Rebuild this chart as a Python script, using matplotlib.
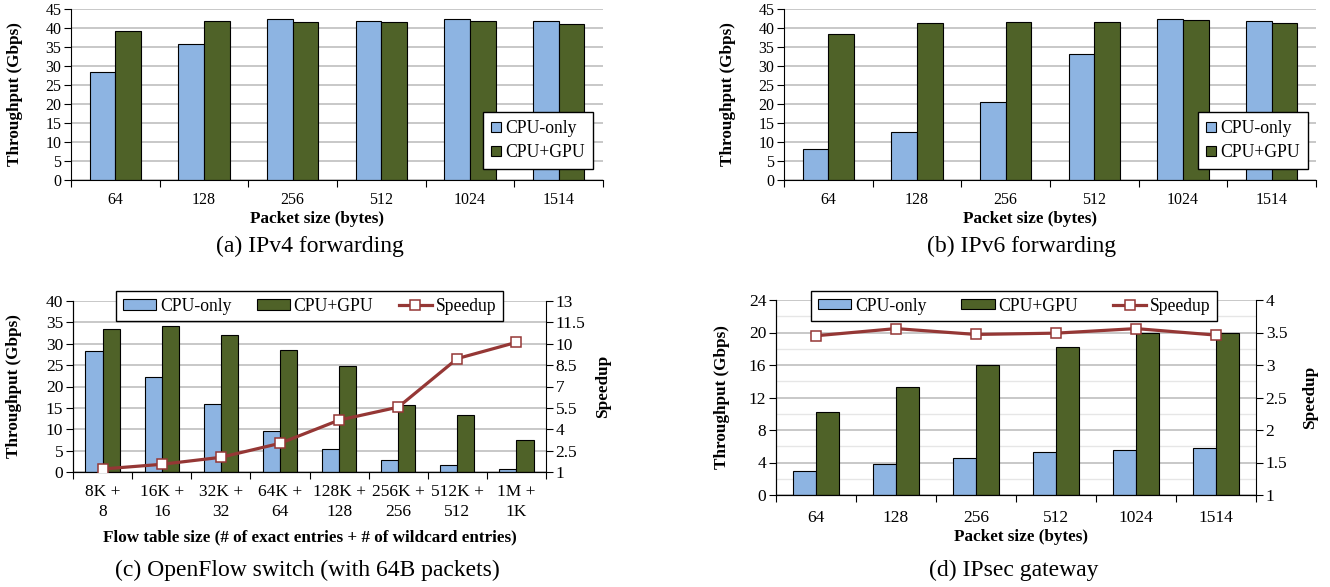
import numpy as np
import matplotlib
matplotlib.use("Agg")
import matplotlib.pyplot as plt
from matplotlib.ticker import MultipleLocator, FixedLocator, NullFormatter

plt.rcParams["font.family"] = ["Liberation Serif", "DejaVu Serif"]

# ---- data ----
pkt_sizes = ["64", "128", "256", "512", "1024", "1514"]

ipv4_cpu = [28.5, 35.7, 42.5, 41.8, 42.3, 41.8]
ipv4_gpu = [39.3, 41.9, 41.7, 41.6, 41.9, 41.1]

ipv6_cpu = [8.1, 12.7, 20.4, 33.2, 42.4, 41.8]
ipv6_gpu = [38.3, 41.2, 41.6, 41.6, 42.1, 41.4]

flow_sizes = ["8K +\n8", "16K +\n16", "32K +\n32", "64K +\n64",
              "128K +\n128", "256K +\n256", "512K +\n512", "1M +\n1K"]
of_cpu = [28.3, 22.3, 15.8, 9.5, 5.4, 2.9, 1.6, 0.8]
of_gpu = [33.5, 34.1, 32.0, 28.5, 24.7, 15.6, 13.3, 7.6]
of_speedup = [1.21, 1.54, 2.03, 3.01, 4.64, 5.55, 8.96, 10.1]

ipsec_cpu = [3.0, 3.8, 4.6, 5.25, 5.6, 5.8]
ipsec_gpu = [10.2, 13.3, 16.0, 18.2, 20.0, 20.0]
ipsec_speedup = [3.45, 3.56, 3.47, 3.49, 3.56, 3.46]

BLUE = "#8DB4E2"
GREEN = "#4F6228"
RED = "#953735"
GRID = "#c4c4c4"
BW = 0.29
LABEL_FS = 12.3


def style_axes(ax, n, labels, ylim, ystep, xlabel, tick_fs, xpad, ylab_x, xlab_xy):
    ax.set_xlim(0, n)
    ax.set_ylim(*ylim)
    ax.yaxis.set_major_locator(MultipleLocator(ystep))
    ax.xaxis.set_major_locator(FixedLocator(np.arange(n + 1)))
    ax.xaxis.set_major_formatter(NullFormatter())
    ax.xaxis.set_minor_locator(FixedLocator(np.arange(n) + 0.5))
    ax.set_xticklabels(labels, minor=True, linespacing=1.3)
    ax.tick_params(axis="x", which="minor", length=0, labelsize=tick_fs, pad=xpad)
    ax.tick_params(axis="x", which="major", length=5, direction="out")
    ax.tick_params(axis="y", length=5, direction="out", labelsize=tick_fs, pad=2)
    ax.grid(axis="y", color=GRID, linewidth=1.3, zorder=0)
    ax.set_axisbelow(True)
    for s in ["top", "right"]:
        ax.spines[s].set_visible(False)
    ax.set_ylabel("Throughput (Gbps)", fontsize=LABEL_FS, fontweight="bold")
    ax.yaxis.set_label_coords(ylab_x, 0.5)
    ax.set_xlabel(xlabel, fontsize=LABEL_FS, fontweight="bold")
    ax.xaxis.set_label_coords(*xlab_xy)


def draw_bars(ax, cpu, gpu):
    x = np.arange(len(cpu)) + 0.5
    ax.bar(x - BW / 2, cpu, BW, color=BLUE, edgecolor="black", linewidth=0.8,
           label="CPU-only", zorder=2)
    ax.bar(x + BW / 2, gpu, BW, color=GREEN, edgecolor="black", linewidth=0.8,
           label="CPU+GPU", zorder=2)


def box_legend(ax, anchor):
    leg = ax.legend(loc="lower right", bbox_to_anchor=anchor, borderaxespad=0,
                    fontsize=12.7, handlelength=0.55, handleheight=0.55,
                    handletextpad=0.25, labelspacing=0.4, borderpad=0.45,
                    fancybox=False, framealpha=1, edgecolor="black")
    leg.get_frame().set_linewidth(1.0)


def speedup_axis(ax, x, values, ylim, ticks, ticklabels, tick_fs, lab_x):
    ax2 = ax.twinx()
    ax2.plot(x, values, color=RED, linewidth=2.3, marker="s", markersize=7.5,
             markerfacecolor="white", markeredgecolor=RED, markeredgewidth=1.1,
             label="Speedup", zorder=5)
    ax2.set_ylim(*ylim)
    ax2.set_yticks(ticks)
    ax2.set_yticklabels(ticklabels)
    ax2.tick_params(axis="y", length=5, direction="out", labelsize=tick_fs, pad=2)
    ax2.spines["top"].set_visible(False)
    ax2.set_ylabel("Speedup", fontsize=LABEL_FS, fontweight="bold")
    ax2.yaxis.set_label_coords(lab_x, 0.5)
    return ax2


def line_legend(ax, ax2, x0, width, top):
    h1, l1 = ax.get_legend_handles_labels()
    h2, l2 = ax2.get_legend_handles_labels()
    leg = ax2.legend(h1 + h2, l1 + l2, loc="upper left",
                     bbox_to_anchor=(x0, 0, width, top), mode="expand",
                     borderaxespad=0, ncol=3, fontsize=12.7, handlelength=1.9,
                     handleheight=0.5, handletextpad=0.2, columnspacing=1.1,
                     borderpad=0.38, fancybox=False, framealpha=1, edgecolor="black")
    leg.get_frame().set_linewidth(1.0)


fig = plt.figure(figsize=(13.3, 5.87), dpi=100)

# (a) IPv4 forwarding
ax_a = fig.add_axes([71 / 1330, 1 - 180 / 587, 532 / 1330, 171 / 587])
draw_bars(ax_a, ipv4_cpu, ipv4_gpu)
style_axes(ax_a, 6, pkt_sizes, (0, 45), 5, "Packet size (bytes)", 11.5, 9,
           -0.090, (0.463, -0.18))
box_legend(ax_a, (0.981, 0.064))

# (b) IPv6 forwarding
ax_b = fig.add_axes([784 / 1330, 1 - 180 / 587, 532 / 1330, 171 / 587])
draw_bars(ax_b, ipv6_cpu, ipv6_gpu)
style_axes(ax_b, 6, pkt_sizes, (0, 45), 5, "Packet size (bytes)", 11.5, 9,
           -0.090, (0.463, -0.18))
box_legend(ax_b, (0.985, 0.064))

# (c) OpenFlow switch
ax_c = fig.add_axes([73 / 1330, 1 - 472 / 587, 473 / 1330, 171 / 587])
draw_bars(ax_c, of_cpu, of_gpu)
style_axes(ax_c, 8, flow_sizes, (0, 40), 5,
           "Flow table size (# of exact entries + # of wildcard entries)", 12.5, 9,
           -0.108, (0.5, -0.333))
ax_c2 = speedup_axis(ax_c, np.arange(8) + 0.5, of_speedup, (1, 13),
                     [1, 2.5, 4, 5.5, 7, 8.5, 10, 11.5, 13],
                     ["1", "2.5", "4", "5.5", "7", "8.5", "10", "11.5", "13"], 12.5, 1.104)
line_legend(ax_c, ax_c2, 0.091, 0.818, 1.058)

# (d) IPsec gateway
ax_d = fig.add_axes([776 / 1330, 1 - 495 / 587, 480 / 1330, 195 / 587])
draw_bars(ax_d, ipsec_cpu, ipsec_gpu)
style_axes(ax_d, 6, pkt_sizes, (0, 24), 4, "Packet size (bytes)", 12.5, 11,
           -0.096, (0.51, -0.174))
ax_d.yaxis.set_minor_locator(MultipleLocator(2))
ax_d.tick_params(axis="y", which="minor", length=0)
ax_d.grid(axis="y", which="minor", color="#e6e6e6", linewidth=1.0, zorder=0)
ax_d2 = speedup_axis(ax_d, np.arange(6) + 0.5, ipsec_speedup, (1, 4),
                     [1, 1.5, 2, 2.5, 3, 3.5, 4],
                     ["1", "1.5", "2", "2.5", "3", "3.5", "4"], 12.5, 1.096)
line_legend(ax_d, ax_d2, 0.073, 0.846, 1.046)

# captions
cap = dict(fontsize=17, ha="center", va="center")
fig.text(310 / 1330, 1 - 246 / 587, "(a) IPv4 forwarding", **cap)
fig.text(1022 / 1330, 1 - 246 / 587, "(b) IPv6 forwarding", **cap)
fig.text(307 / 1330, 1 - 570 / 587, "(c) OpenFlow switch (with 64B packets)", **cap)
fig.text(1014 / 1330, 1 - 570 / 587, "(d) IPsec gateway", **cap)

fig.savefig("out.png", dpi=100)
